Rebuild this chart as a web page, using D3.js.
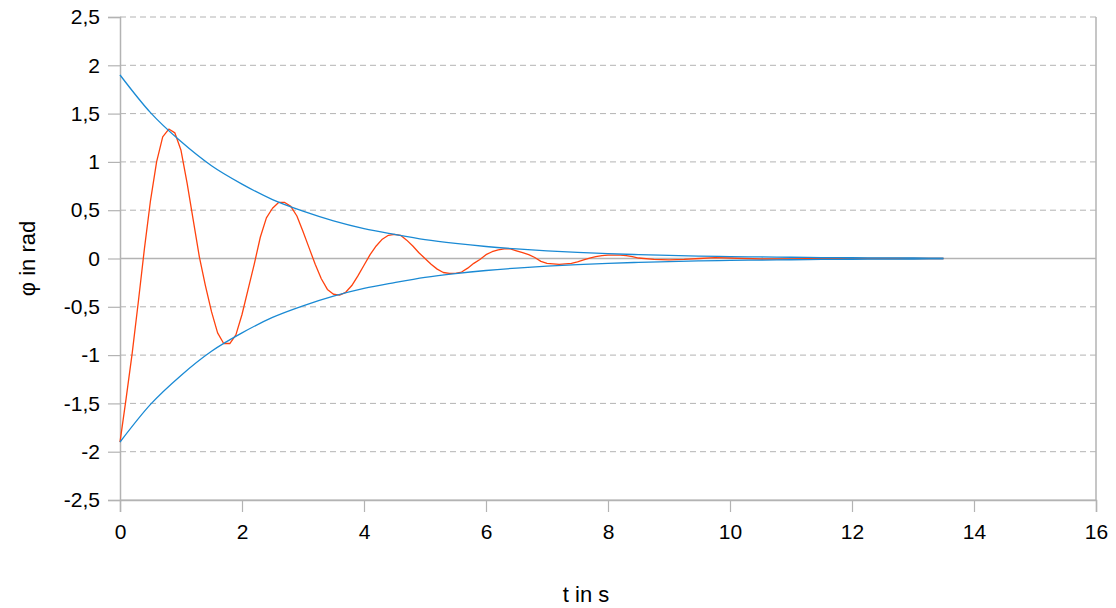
<!DOCTYPE html>
<html>
<head>
<meta charset="utf-8">
<script src="https://cdn.jsdelivr.net/npm/d3@7"></script>
<style>
  body { margin: 0; background: #fff; }
  text { font-family: "Liberation Sans", Arial, sans-serif; fill: #000; }
</style>
</head>
<body>
<div id="chart"></div>
<script>
var w = 1116;
var h = 608;

// red curve: phi(t), sampled every 0.1 s, coarser at the tail
var redTime = [0,0.1,0.2,0.3,0.4,0.5,0.6,0.7,0.8,0.9,
  1,1.1,1.2,1.3,1.4,1.5,1.6,1.7,1.8,1.9,
  2,2.1,2.2,2.3,2.4,2.5,2.6,2.7,2.8,2.9,
  3,3.1,3.2,3.3,3.4,3.5,3.6,3.7,3.8,3.9,
  4,4.1,4.2,4.3,4.4,4.5,4.6,4.7,4.8,4.9,
  5,5.1,5.2,5.3,5.4,5.5,5.6,5.7,5.8,5.9,
  6,6.1,6.2,6.3,6.4,6.5,6.6,6.7,6.8,6.9,
  7,7.1,7.2,7.3,7.4,7.5,7.6,7.7,7.8,7.9,
  8,8.1,8.2,8.3,8.4,8.5,8.75,9,9.25,9.5,9.75,
  10,10.5,11,11.5,12,12.5,13,13.5];
var redPhi = [-1.90,-1.45,-0.98,-0.45,0.10,0.60,1.00,1.26,1.34,1.30,
  1.12,0.78,0.40,0.02,-0.28,-0.55,-0.77,-0.88,-0.88,-0.79,
  -0.58,-0.32,-0.06,0.22,0.42,0.52,0.58,0.58,0.54,0.44,
  0.28,0.11,-0.06,-0.21,-0.32,-0.37,-0.38,-0.35,-0.28,-0.18,
  -0.07,0.04,0.13,0.20,0.24,0.25,0.24,0.19,0.13,0.06,
  0.00,-0.06,-0.11,-0.145,-0.155,-0.155,-0.14,-0.10,-0.05,-0.01,
  0.04,0.07,0.09,0.10,0.10,0.08,0.06,0.04,0.01,-0.03,
  -0.05,-0.055,-0.06,-0.055,-0.05,-0.035,-0.015,0.005,0.02,0.03,
  0.035,0.035,0.035,0.03,0.02,0.005,-0.01,-0.015,-0.01,0.0,0.01,
  0.005,-0.005,-0.005,0.0,0.0,0.0,0.0,0.0];

// blue envelope
var envTime = [0,0.5,1,1.5,2,2.5,3,3.5,4,4.5,5,5.5,6,6.5,7,7.5,8,8.5,9,9.5,10,10.5,11,11.5,12,12.5,13,13.5];
var envUpper = [1.90,1.51,1.21,0.96,0.77,0.61,0.49,0.39,0.31,0.25,0.196,0.156,0.124,0.099,0.079,0.063,0.050,0.040,0.032,0.025,0.020,0.016,0.013,0.010,0.008,0.0065,0.005,0.004];
var envLower = [-1.90,-1.51,-1.21,-0.96,-0.77,-0.61,-0.49,-0.39,-0.31,-0.25,-0.196,-0.156,-0.124,-0.099,-0.079,-0.063,-0.050,-0.040,-0.032,-0.025,-0.020,-0.016,-0.013,-0.010,-0.008,-0.0065,-0.005,-0.004];

var xTicks = [0,2,4,6,8,10,12,14,16];
var yTicks = [-2.5,-2,-1.5,-1,-0.5,0,0.5,1,1.5,2,2.5];

var margin = { left: 120, right: 20, top: 17, bottom: 108 };

var svg = d3.select("#chart")
            .append("svg")
            .attr("width", w)
            .attr("height", h);

var x = d3.scaleLinear().domain([0, 16]).range([margin.left, w - margin.right]);
var y = d3.scaleLinear().domain([-2.5, 2.5]).range([h - margin.bottom, margin.top]);

var fmt = function(d) { return String(d).replace(".", ","); };

// horizontal grid lines
svg.append("g")
   .selectAll("line")
   .data(yTicks)
   .enter()
   .append("line")
   .attr("x1", x(0))
   .attr("x2", x(16))
   .attr("y1", function(d) { return y(d); })
   .attr("y2", function(d) { return y(d); })
   .style("stroke", "#b3b3b3")
   .style("stroke-width", function(d) { return d === 0 ? 1.5 : 1; })
   .style("stroke-dasharray", function(d) { return (d === 0 || d === -2.5) ? null : "6,4"; });

// right border
svg.append("line")
   .attr("x1", x(16)).attr("x2", x(16))
   .attr("y1", y(2.5)).attr("y2", y(-2.5))
   .style("stroke", "#b3b3b3")
   .style("stroke-width", 1.5);

var yAxis = svg.append("g")
   .attr("transform", "translate(" + x(0) + ",0)")
   .call(d3.axisLeft(y).tickValues(yTicks).tickSize(12).tickPadding(8).tickFormat(fmt));

var xAxis = svg.append("g")
   .attr("transform", "translate(0," + y(-2.5) + ")")
   .call(d3.axisBottom(x).tickValues(xTicks).tickSize(12).tickPadding(12).tickFormat(fmt));

[yAxis, xAxis].forEach(function(a) {
    a.select(".domain").style("stroke", "#b3b3b3").style("stroke-width", 1.5);
    a.selectAll(".tick line").style("stroke", "#b3b3b3").style("stroke-width", 1.2);
    a.selectAll("text")
     .style("font-family", "'Liberation Sans', Arial, sans-serif")
     .style("font-size", "21px")
     .style("fill", "#000");
});

var line = d3.line()
             .x(function(d) { return x(d[0]); })
             .y(function(d) { return y(d[1]); });

var smooth = d3.line()
               .curve(d3.curveMonotoneX)
               .x(function(d) { return x(d[0]); })
               .y(function(d) { return y(d[1]); });

var upper = envTime.map(function(t, i) { return [t, envUpper[i]]; });
var lower = envTime.map(function(t, i) { return [t, envLower[i]]; });
var red = redTime.map(function(t, i) { return [t, redPhi[i]]; });

svg.append("path")
   .attr("d", line(red))
   .style("fill", "none")
   .style("stroke", "#ff420e")
   .style("stroke-width", 1.3)
   .style("stroke-linejoin", "round");

[upper, lower].forEach(function(s) {
    svg.append("path")
       .attr("d", smooth(s))
       .style("fill", "none")
       .style("stroke", "#1a8ad4")
       .style("stroke-width", 1.3);
});

// axis titles
svg.append("text")
   .attr("x", 586)
   .attr("y", 602)
   .attr("text-anchor", "middle")
   .style("font-size", "22px")
   .text("t in s");

svg.append("text")
   .attr("transform", "translate(35," + y(0) + ") rotate(-90)")
   .attr("text-anchor", "middle")
   .style("font-size", "22px")
   .text("φ in rad");
</script>
</body>
</html>
